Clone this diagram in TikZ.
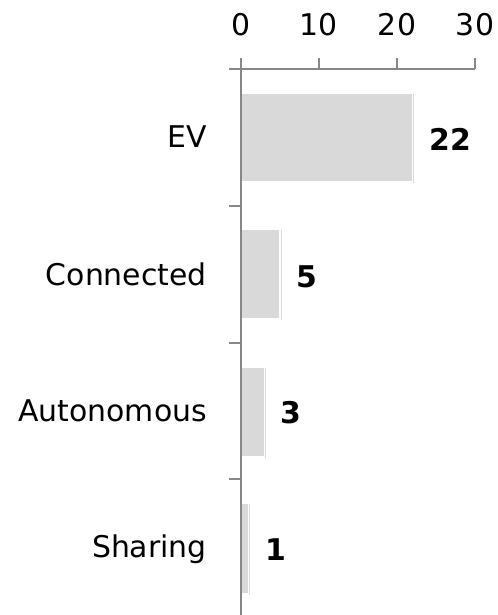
\documentclass[tikz,border=0pt]{standalone}
\usepackage{fontspec}
\setmainfont{DejaVu Sans}
\usetikzlibrary{shadows}
\definecolor{bargray}{HTML}{D9D9D9}
\definecolor{axisgray}{HTML}{878787}
\begin{document}
\begin{tikzpicture}[x=1bp, y=1bp, line join=miter,
  axis/.style={draw=axisgray, line width=1.8bp},
  bar/.style={fill=bargray, draw=white, line width=1.2bp,
    drop shadow={shadow xshift=1.5bp, shadow yshift=-1.5bp, opacity=0.3}},
  cat/.style={anchor=base east, inner sep=0pt, font=\fontsize{30}{36}\selectfont},
  val/.style={anchor=base west, inner sep=0pt, font=\fontsize{30}{36}\selectfont\bfseries},
  tick/.style={anchor=base, inner sep=0pt, font=\fontsize{30}{36}\selectfont}]
	\useasboundingbox (0,0) rectangle (498,615);
	% Origin and top of the axes
	\coordinate (O) at (241,0);
	\coordinate (T) at (241,546);
	
	% Bars (1 unit = 7.8bp)
	\path[bar] (241,522) rectangle (412.6,433) coordinate (ev);
	\path[bar] (241,386) rectangle (280,296) coordinate (con);
	\path[bar] (241,248) rectangle (264.4,158) coordinate (aut);
	\path[bar] (241,112) rectangle (248.8,21) coordinate (sha);
	
	% Axes
	\draw[axis] (O) -- (T);
	\draw[axis] (229,546) coordinate (L) -- (475,546) coordinate (R);
	\draw[axis] (T) -- ++(0,11);
	\draw[axis] (319,546) -- ++(0,11);
	\draw[axis] (397,546) -- ++(0,11);
	\draw[axis] (R) -- ++(0,11);
	\draw[axis] (241,409) -- ++(-12,0);
	\draw[axis] (241,272) -- ++(-12,0);
	\draw[axis] (241,136) -- ++(-12,0);
	
	% Scale
	\node[tick] (t0) at (241,579) {0};
	\node[tick] (t10) at (319,579) {10};
	\node[tick] (t20) at (397,579) {20};
	\node[tick] (t30) at (475,579) {30};
	
	% Categories
	\node[cat] (cev) at (207,467) {EV};
	\node[cat] (ccon) at (207,329) {Connected};
	\node[cat] (caut) at (207,193) {Autonomous};
	\node[cat] (csha) at (207,57) {Sharing};
	
	% Values
	\node[val] (vev) at (429,464) {22};
	\node[val] (vcon) at (296,327) {5};
	\node[val] (vaut) at (280,191) {3};
	\node[val] (vsha) at (265,54) {1};
\end{tikzpicture}
\end{document}
